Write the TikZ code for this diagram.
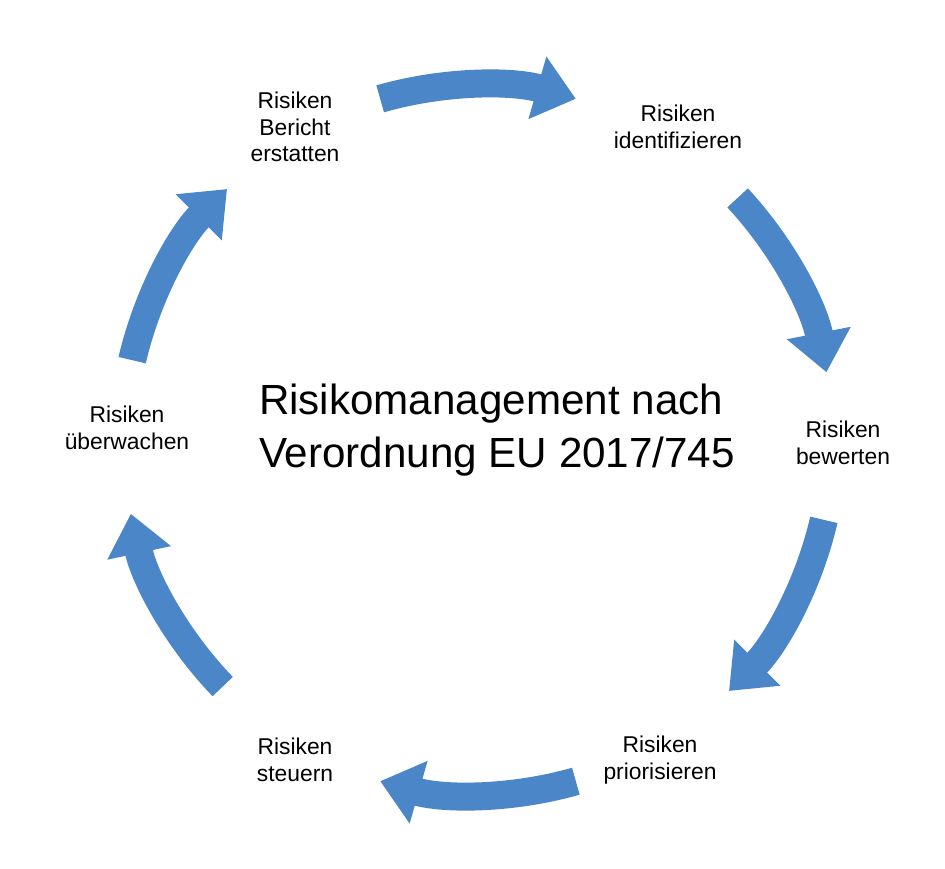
\documentclass[tikz,border=0pt]{standalone}
\usepackage{fontspec}
\setmainfont{Liberation Sans}
\usetikzlibrary{arrows.meta}
\definecolor{cycleblue}{RGB}{74,134,200}
\tikzset{
    step label/.style={align=center, font=\fontsize{13}{15}\selectfont},
    cycle arrow/.style={cycleblue, line width=0.56cm,
        -{Triangle[width=1.25cm, length=0.8cm]}}
}
\begin{document}
\begin{tikzpicture}[x=0.02cm, y=-0.02cm]
    \useasboundingbox (0,0) rectangle (945,868);
    \coordinate (M) at (478,440);

    \node[font=\fontsize{24}{30}\selectfont, align=left] (title) at (497,430)
        {Risikomanagement nach\\Verordnung EU 2017/745};

    \node[step label] (ident) at (678,127) {Risiken\\identifizieren};
    \node[step label] (bew) at (843,443) {Risiken\\bewerten};
    \node[step label] (prio) at (660,760) {Risiken\\priorisieren};
    \node[step label] (steu) at (295,760) {Risiken\\steuern};
    \node[step label] (ueb) at (127,428) {Risiken\\überwachen};
    \node[step label] (ber) at (295,127) {Risiken\\Bericht\\erstatten};

    % arrows around the cycle
    \foreach \a/\b in {106/74, 43/11, -13/-45, -74/-106, -136/-168, 167/135}
        \draw[cycle arrow] (M) ++(\a:7.1cm) arc[start angle=\a, end angle=\b, radius=7.1cm];
\end{tikzpicture}
\end{document}
